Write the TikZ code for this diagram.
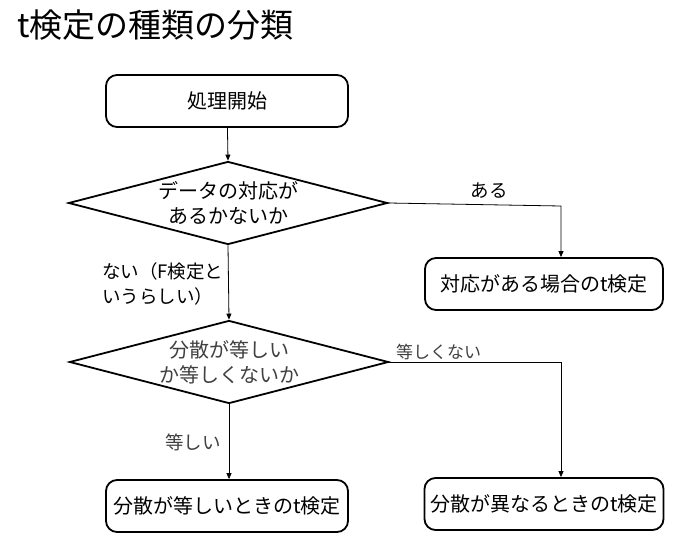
\documentclass[tikz,border=0pt]{standalone}
\usepackage{fontspec}
\setmainfont{Noto Sans CJK JP}
\usetikzlibrary{shapes.geometric,arrows.meta}
\begin{document}
\begin{tikzpicture}[x=1pt,y=-1pt,
 box/.style={draw,line width=1.8pt,rounded corners=11pt,minimum width=242pt,minimum height=52pt,inner sep=0pt,font=\fontsize{20}{23}\selectfont},
 dia/.style={draw,line width=1.8pt,diamond,aspect=3.8,minimum width=319pt,minimum height=83pt,inner sep=0pt,align=center,font=\fontsize{20}{25}\selectfont},
 conn/.style={line width=0.8pt,-{Triangle[length=6pt,width=5pt]}},
 lbl/.style={font=\fontsize{18.5}{25}\selectfont,inner sep=0pt,align=left}]
\useasboundingbox[fill=white] (0,0) rectangle (682,543);
\node[anchor=west,font=\fontsize{33}{36}\selectfont,inner sep=0pt] (title) at (17,25) {t検定の種類の分類};
\node[box] (start) at (227,101) {処理開始};
\node[dia] (d1) at (228,203) {データの対応が\\あるかないか};
\node[box,minimum width=238pt] (b2) at (544,284) {対応がある場合のt検定};
\node[dia,text=black!75] (d2) at (229,362) {分散が等しい\\か等しくないか};
\node[box] (b3) at (227,506) {分散が等しいときのt検定};
\node[box,minimum width=239pt] (b4) at (544,504) {分散が異なるときのt検定};
\coordinate (c1) at (561,206);
\coordinate (c2) at (561,362);
\draw[conn] (start) -- (d1.north);
\draw[conn] (d1.east) -- (c1) -- (c1 |- b2.north);
\draw[conn] (d1.south) -- (d2.north);
\draw[conn] (d2.south) -- (d2.south |- b3.north);
\draw[conn] (d2.east) -- (c2) -- (c2 |- b4.north);
\node[lbl] (l1) at (489,191) {ある};
\node[lbl,anchor=west] (l2) at (102,284) {ない（F検定と\\いうらしい）};
\node[lbl,anchor=west,text=black!75,font=\fontsize{17}{20}\selectfont] (l3) at (396,352) {等しくない};
\node[lbl,text=black!75] (l4) at (193,442) {等しい};
\end{tikzpicture}
\end{document}
